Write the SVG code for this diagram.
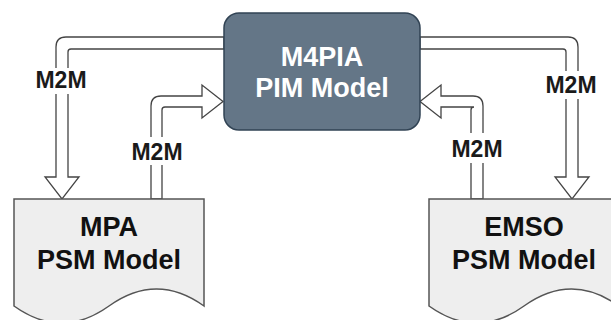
<svg xmlns="http://www.w3.org/2000/svg" width="611" height="320" viewBox="0 0 611 320">
  <style>
    .arrow { fill: #ffffff; stroke: #444444; stroke-width: 1.3; stroke-linejoin: miter; }
    .lblbg { fill: #ffffff; }
    .lbl { font-family: "Liberation Sans", Arial, sans-serif; font-weight: bold; font-size: 23px; fill: #1a1a1a; text-anchor: middle; }
    .doc { fill: #eeeeee; stroke: #555555; stroke-width: 1.5; }
    .doctxt { font-family: "Liberation Sans", Arial, sans-serif; font-weight: bold; font-size: 27px; fill: #111111; text-anchor: middle; }
    .pim { fill: #647687; stroke: #314354; stroke-width: 1.5; }
    .pimtxt { font-family: "Liberation Sans", Arial, sans-serif; font-weight: bold; font-size: 27px; fill: #ffffff; text-anchor: middle; }
  </style>
  <rect width="611" height="320" fill="#ffffff"/>
  <g id="connectors">
    <g id="edge-pim-mpa">
      <path class="arrow" d="M224,37 L66,37 Q56,37 56,47 L56,177 L45,177 L62,199 L79,177 L68,177 L68,52 Q68,49 71,49 L224,49 Z"/>
      <rect class="lblbg" x="33" y="68" width="56" height="26"/>
      <text class="lbl" x="61" y="88">M2M</text>
    </g>
    <g id="edge-mpa-pim">
      <path class="arrow" d="M151,199 L151,106 Q151,96 161,96 L202,96 L202,85 L223,101.5 L202,118 L202,107 L165,107 Q162,107 162,110 L162,199 Z"/>
      <rect class="lblbg" x="130" y="137" width="54" height="28"/>
      <text class="lbl" x="157" y="160">M2M</text>
    </g>
    <g id="edge-pim-emso">
      <path class="arrow" d="M420,37 L568,37 Q578,37 578,47 L578,177 L589,177 L572,199 L555,177 L566,177 L566,52 Q566,49 563,49 L420,49 Z"/>
      <rect class="lblbg" x="543" y="71" width="56" height="28"/>
      <text class="lbl" x="571" y="93">M2M</text>
    </g>
    <g id="edge-emso-pim">
      <path class="arrow" d="M483,199 L483,106 Q483,96 473,96 L441,96 L441,85 L420,101.5 L441,118 L441,107 L474,107 Q471,107 471,110 L471,199 Z"/>
      <rect class="lblbg" x="450" y="133" width="54" height="30"/>
      <text class="lbl" x="477" y="157">M2M</text>
    </g>
  </g>
  <g id="node-pim">
    <rect class="pim" x="224" y="13" width="196" height="117" rx="15" ry="15"/>
    <text class="pimtxt" x="322" y="66">M4PIA</text>
    <text class="pimtxt" x="322" y="97">PIM Model</text>
  </g>
  <g id="node-mpa">
    <path class="doc" d="M14,199 L204,199 L204,306 Q156.5,272 109,306 Q61.5,340 14,306 Z"/>
    <text class="doctxt" x="109" y="236">MPA</text>
    <text class="doctxt" x="109" y="269">PSM Model</text>
  </g>
  <g id="node-emso">
    <path class="doc" d="M429,199 L619,199 L619,306 Q571.5,272 524,306 Q476.5,340 429,306 Z"/>
    <text class="doctxt" x="524" y="236">EMSO</text>
    <text class="doctxt" x="524" y="269">PSM Model</text>
  </g>
</svg>
